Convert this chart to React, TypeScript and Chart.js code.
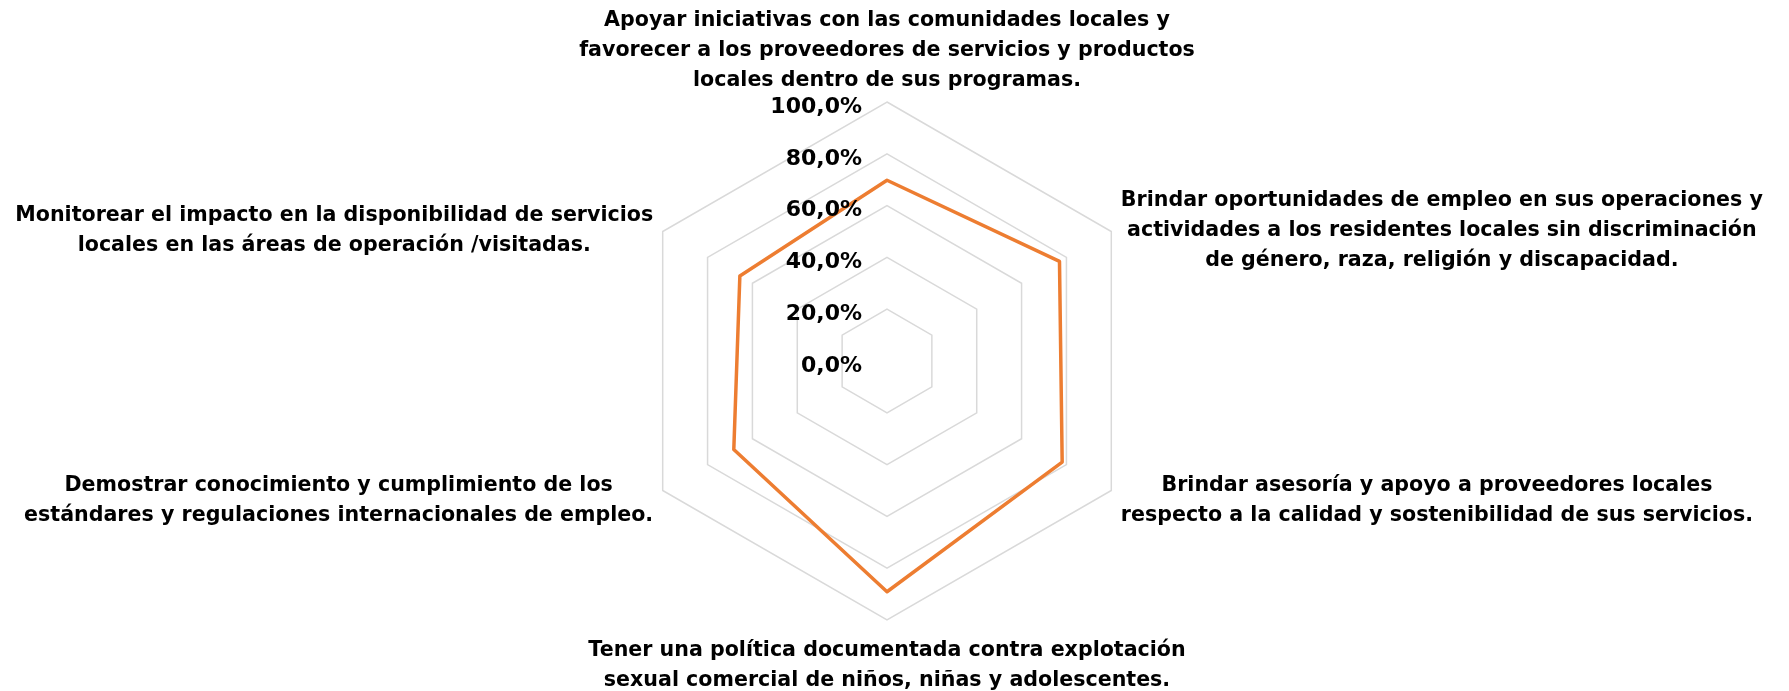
import React, { useEffect, useRef } from "react";
import { Chart, registerables } from "chart.js";

Chart.register(...registerables);

const categories: string[][] = [
  [
    "Apoyar iniciativas con las comunidades locales y",
    "favorecer a los proveedores de servicios y productos",
    "locales dentro de sus programas.",
  ],
  [
    "Brindar oportunidades de empleo en sus operaciones y",
    "actividades a los residentes locales sin discriminación",
    "de género, raza, religión y discapacidad.",
  ],
  [
    "Brindar asesoría y apoyo a proveedores locales",
    "respecto a la calidad y sostenibilidad de sus servicios.",
  ],
  [
    "Tener una política documentada contra explotación",
    "sexual comercial de niños, niñas y adolescentes.",
  ],
  [
    "Demostrar conocimiento y cumplimiento de los",
    "estándares y regulaciones internacionales de empleo.",
  ],
  [
    "Monitorear el impacto en la disponibilidad de servicios",
    "locales en las áreas de operación /visitadas.",
  ],
];

const seriesValues: number[] = [69.8, 76.9, 78.1, 89.1, 68.3, 65.6];

const tickMin = 0;
const tickMax = 100;
const tickStep = 20;

const FONT_FAMILY = '"DejaVu Sans", sans-serif';
const LABEL_FONT_SIZE = 20.6;
const TICK_FONT_SIZE = 22;
const LINE_HEIGHT = 30;
const LABEL_PAD = 11;
const LABEL_DY = 5;
const TICK_GAP = 25;
const TICK_DY = 5;

const fmtTick = (v: number) => v.toFixed(1).replace(".", ",") + "%";

const labelPlugin = {
  id: "customLabels",
  afterDraw(chart: any) {
    const scale = chart.scales.r;
    const ctx: CanvasRenderingContext2D = chart.ctx;
    ctx.save();
    ctx.fillStyle = "#000000";
    // tick labels
    ctx.font = `bold ${TICK_FONT_SIZE}px ${FONT_FAMILY}`;
    ctx.textAlign = "right";
    ctx.textBaseline = "middle";
    scale.ticks.forEach((t: any) => {
      const d = scale.getDistanceFromCenterForValue(t.value);
      ctx.fillText(fmtTick(t.value), scale.xCenter - TICK_GAP, scale.yCenter - d + TICK_DY);
    });
    // point labels
    ctx.font = `bold ${LABEL_FONT_SIZE}px ${FONT_FAMILY}`;
    const labels: string[][] = chart.data.labels;
    const n = labels.length;
    labels.forEach((lines, i) => {
      const p = scale.getPointPosition(i, scale.drawingArea + LABEL_PAD);
      const angleDeg = (i * 360) / n;
      const blockH = lines.length * LINE_HEIGHT;
      const maxW = Math.max(...lines.map((l) => ctx.measureText(l).width));
      let cx = p.x;
      let top = p.y - blockH / 2;
      if (angleDeg === 0) {
        top = p.y - blockH;
      } else if (angleDeg === 180) {
        top = p.y;
      } else if (angleDeg < 180) {
        cx = p.x + maxW / 2;
      } else {
        cx = p.x - maxW / 2;
      }
      ctx.textAlign = "center";
      ctx.textBaseline = "middle";
      lines.forEach((l, k) => {
        ctx.fillText(l, cx, top + LINE_HEIGHT * (k + 0.5) + LABEL_DY);
      });
    });
    ctx.restore();
  },
};

export default function App() {
  const canvasRef = useRef<HTMLCanvasElement | null>(null);

  useEffect(() => {
    if (!canvasRef.current) return;
    const chart = new Chart(canvasRef.current, {
      type: "radar",
      data: {
        labels: categories as any,
        datasets: [
          {
            data: seriesValues,
            borderColor: "#ED7D31",
            backgroundColor: "rgba(0,0,0,0)",
            borderWidth: 3.5,
            fill: false,
            pointRadius: 0,
            pointHoverRadius: 0,
            tension: 0,
            borderJoinStyle: "round",
          },
        ],
      },
      options: {
        animation: false,
        responsive: false,
        maintainAspectRatio: false,
        events: [],
        layout: { padding: { top: 102, bottom: 70, left: 0, right: 14 } },
        plugins: {
          legend: { display: false },
          tooltip: { enabled: false },
          title: { display: false },
        },
        scales: {
          r: {
            min: tickMin,
            max: tickMax,
            beginAtZero: true,
            ticks: { stepSize: tickStep, display: false },
            pointLabels: { display: false },
            angleLines: { display: false },
            grid: { circular: false, color: "#D9D9D9", lineWidth: 1.5 },
          },
        },
      },
      plugins: [labelPlugin],
    });
    return () => chart.destroy();
  }, []);

  return (
    <div style={{ position: "absolute", left: 0, top: 0, width: 1789, height: 691, background: "#ffffff" }}>
      <canvas ref={canvasRef} width={1789} height={691} style={{ display: "block" }} />
    </div>
  );
}
